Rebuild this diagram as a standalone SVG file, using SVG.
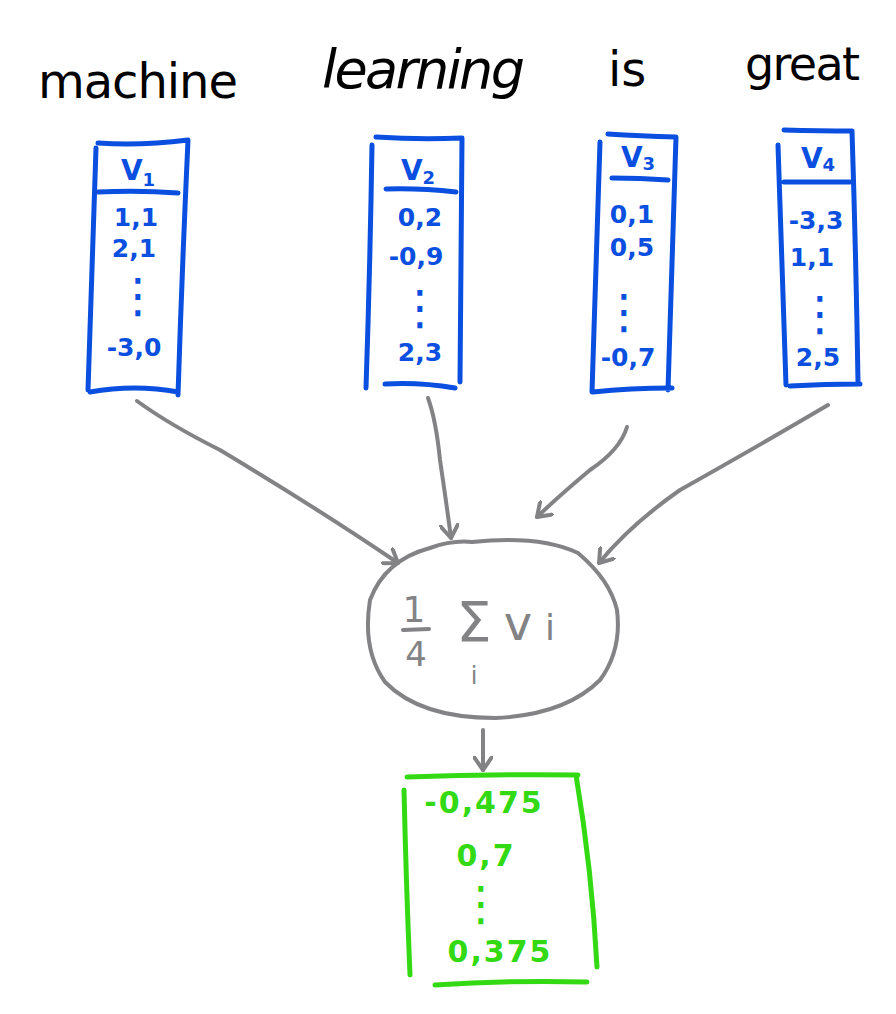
<svg xmlns="http://www.w3.org/2000/svg" width="896" height="1014" viewBox="0 0 896 1014">
<style>
.word{font-family:"DejaVu Sans",sans-serif;font-size:48px;fill:#000;}
.blue{stroke:#0a4fe0;stroke-width:5;fill:none;stroke-linecap:round;stroke-linejoin:round;}
.bt{font-family:"DejaVu Sans",sans-serif;font-weight:bold;font-size:25px;fill:#0a4fe0;text-anchor:middle;}
.dots{font-family:"DejaVu Sans",sans-serif;font-weight:normal;font-size:48px;fill:#0a4fe0;text-anchor:middle;}
.hd{font-family:"DejaVu Sans",sans-serif;font-weight:bold;font-size:28px;fill:#0a4fe0;text-anchor:middle;}
.green{stroke:#33d913;stroke-width:5;fill:none;stroke-linecap:round;stroke-linejoin:round;}
.gt{font-family:"DejaVu Sans",sans-serif;font-weight:bold;font-size:30px;fill:#33d913;text-anchor:middle;letter-spacing:2px;}
.gray{stroke:#838386;stroke-width:4;fill:none;stroke-linecap:round;stroke-linejoin:round;}
.gf{font-family:"DejaVu Sans",sans-serif;fill:#838386;text-anchor:middle;}
</style>
<defs>
<marker id="ah" viewBox="-14 -10 18 20" markerWidth="18" markerHeight="20" refX="0" refY="0" orient="auto" markerUnits="userSpaceOnUse">
<path d="M-13,-9 L0,0 L-13,9" fill="none" stroke="#838386" stroke-width="4" stroke-linecap="round" stroke-linejoin="round"/>
</marker>
</defs>
<rect width="896" height="1014" fill="#fff"/>

<g id="label-machine"><text class="word" x="38" y="98" textLength="200">machine</text></g>
<g id="label-learning"><text class="word" x="322" y="88" style="font-size:54px;font-style:italic" textLength="203">learning</text></g>
<g id="label-is"><text class="word" x="608" y="86">is</text></g>
<g id="label-great"><text class="word" x="745" y="80" style="font-size:46px" textLength="115">great</text></g>

<g id="v1">
<path class="blue" d="M98,143 Q140,146 188,140 M188,140 Q182,270 178,395 M90,392 Q135,384 178,392 M96,148 Q92,270 88,390 M98,192 Q140,190 178,193"/>
<text class="hd" x="138" y="180">V<tspan font-size="18" dy="6">1</tspan></text>
<text class="bt" x="136" y="226">1,1</text>
<text class="bt" x="134" y="257">2,1</text>
<text class="dots" x="138" y="312">⋮</text>
<text class="bt" x="134" y="356">-3,0</text>
</g>

<g id="v2">
<path class="blue" d="M376,137 Q420,140 462,138 M372,145 Q370,270 366,388 M462,138 Q461,260 460,382 M385,384 Q420,382 455,388 M386,189 Q420,188 456,192"/>
<text class="hd" x="418" y="180">V<tspan font-size="18" dy="4">2</tspan></text>
<text class="bt" x="420" y="226">0,2</text>
<text class="bt" x="416" y="265">-0,9</text>
<text class="dots" x="420" y="324">⋮</text>
<text class="bt" x="420" y="361">2,3</text>
</g>

<g id="v3">
<path class="blue" d="M608,134 Q640,136 676,137 M600,142 Q596,270 592,392 M676,137 Q672,262 668,390 M593,392 Q630,388 672,388 M612,178 Q640,178 668,180"/>
<text class="hd" x="638" y="167">V<tspan font-size="18" dy="3">3</tspan></text>
<text class="bt" x="632" y="223">0,1</text>
<text class="bt" x="632" y="256">0,5</text>
<text class="dots" x="624" y="328">⋮</text>
<text class="bt" x="628" y="366">-0,7</text>
</g>

<g id="v4">
<path class="blue" d="M784,130 Q820,131 852,131 M778,145 Q782,265 786,385 M852,131 Q856,255 858,382 M790,386 Q825,384 860,384 M784,182 Q818,182 850,182"/>
<text class="hd" x="818" y="168">V<tspan font-size="18" dy="3">4</tspan></text>
<text class="bt" x="816" y="229">-3,3</text>
<text class="bt" x="812" y="266">1,1</text>
<text class="dots" x="820" y="330">⋮</text>
<text class="bt" x="818" y="366">2,5</text>
</g>

<g id="connectors">
<path class="gray" d="M137,401 Q170,425 220,450 Q320,510 398,563" marker-end="url(#ah)"/>
<path class="gray" d="M428,398 Q436,420 440,460 Q446,500 451,538" marker-end="url(#ah)"/>
<path class="gray" d="M627,427 Q620,450 590,470 Q560,495 537,517" marker-end="url(#ah)"/>
<path class="gray" d="M828,405 Q760,445 680,490 Q630,525 599,563" marker-end="url(#ah)"/>
<path class="gray" d="M483,730 L483,770" marker-end="url(#ah)"/>
</g>

<g id="mean">
<path class="gray" d="M472,542 Q540,535 578,553 Q610,580 617,610 Q622,650 600,680 Q565,715 495,718 Q420,718 385,682 Q362,650 370,600 Q385,560 430,548 Q452,540 472,542" stroke-width="5"/>
<text class="gf" x="414" y="622" style="font-size:36px">1</text>
<path class="gray" d="M403,630 L429,629"/>
<text class="gf" x="416" y="666" style="font-size:34px">4</text>
<text class="gf" x="474" y="641" style="font-size:56px">Σ</text>
<text class="gf" x="474" y="684" style="font-size:24px">i</text>
<text class="gf" x="518" y="640" style="font-size:48px">v</text>
<text class="gf" x="550" y="640" style="font-size:36px">i</text>
</g>

<g id="result">
<path class="green" d="M404,790 Q406,880 410,975 M407,777 Q490,774 578,775 M576,775 Q592,870 597,967 M435,985 Q510,980 587,982"/>
<text class="gt" x="484" y="813">-0,475</text>
<text class="gt" x="486" y="866">0,7</text>
<text class="gt" x="482" y="920" style="font-size:48px;font-weight:normal">⋮</text>
<text class="gt" x="500" y="962">0,375</text>
</g>
</svg>
